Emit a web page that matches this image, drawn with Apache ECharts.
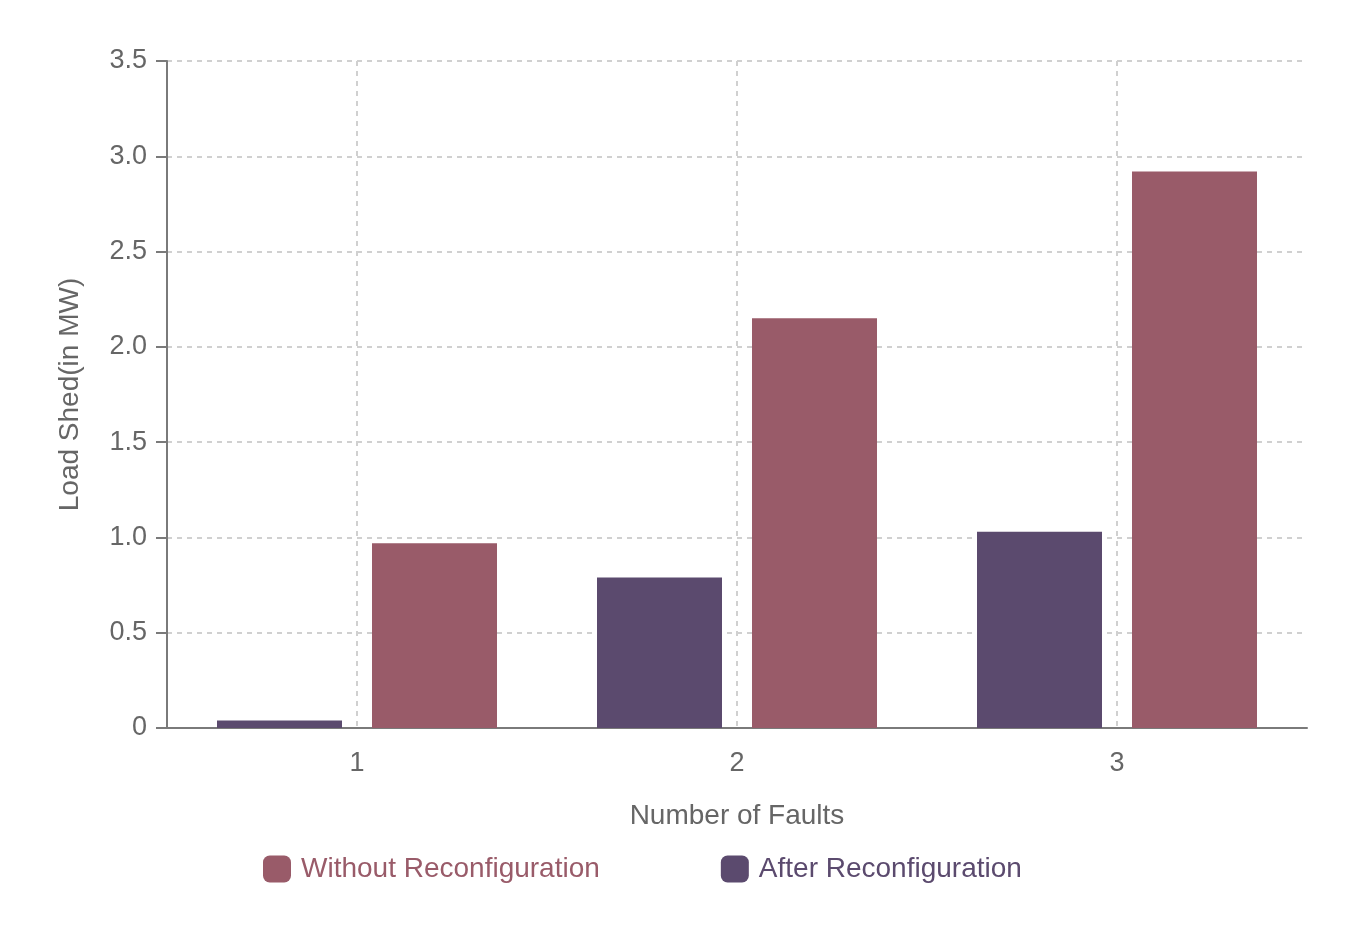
<!DOCTYPE html>
<html>
<head>
<meta charset="utf-8">
<script src="https://cdn.jsdelivr.net/npm/echarts@6/dist/echarts.min.js"></script>
<style>html,body{margin:0;padding:0;background:#fff}#c{width:1346px;height:938px}</style>
</head>
<body>
<div id="c"></div>
<script>
const categories = ['1', '2', '3'];
const afterReconfig = [0.04, 0.79, 1.03];
const withoutReconfig = [0.97, 2.15, 2.92];
const seriesNames = ['Without Reconfiguration', 'After Reconfiguration'];
const yAxisName = 'Load Shed(in MW)';
const xAxisName = 'Number of Faults';

const colWithout = '#995b69';
const colAfter = '#5b4a6e';
const axisCol = '#7a7a7a';
const txtCol = '#666666';
const font = 'Liberation Sans, Arial, sans-serif';

const chart = echarts.init(document.getElementById('c'));
chart.setOption({
  animation: false,
  textStyle: { fontFamily: font },
  grid: { left: 167, right: 39, top: 61, bottom: 210 },
  legend: {
    bottom: 50,
    left: 258,
    icon: 'roundRect',
    itemWidth: 28,
    itemHeight: 27,
    itemGap: 121,
    textStyle: { fontSize: 28, fontFamily: font, padding: [0, 0, 0, 5] },
    data: [
      { name: seriesNames[0], textStyle: { color: colWithout } },
      { name: seriesNames[1], textStyle: { color: colAfter } }
    ]
  },
  xAxis: {
    type: 'category',
    data: categories,
    name: xAxisName,
    nameLocation: 'middle',
    nameGap: 74,
    nameTextStyle: { fontSize: 28, color: txtCol, fontFamily: font },
    axisLine: { lineStyle: { color: axisCol, width: 2 } },
    axisTick: { alignWithLabel: true, length: 11, lineStyle: { color: axisCol, width: 2 } },
    axisLabel: { fontSize: 27, color: txtCol, margin: 22, fontFamily: font },
    splitLine: { show: true, alignWithLabel: true, lineStyle: { color: '#d0d0d0', type: [5, 5], width: 2 } }
  },
  yAxis: {
    type: 'value',
    min: 0,
    max: 3.5,
    interval: 0.5,
    name: yAxisName,
    nameLocation: 'middle',
    nameGap: 83,
    nameTextStyle: { fontSize: 28, color: txtCol, fontFamily: font },
    axisLine: { show: true, lineStyle: { color: axisCol, width: 2 } },
    axisTick: { show: true, length: 11, lineStyle: { color: axisCol, width: 2 } },
    axisLabel: {
      fontSize: 27, color: txtCol, margin: 20, fontFamily: font,
      formatter: v => v === 0 ? '0' : v.toFixed(1)
    },
    splitLine: { show: true, lineStyle: { color: '#d0d0d0', type: [5, 5], width: 2 } }
  },
  series: [
    {
      name: seriesNames[1],
      type: 'bar',
      data: afterReconfig,
      barWidth: 125,
      barGap: '24%',
      itemStyle: { color: colAfter }
    },
    {
      name: seriesNames[0],
      type: 'bar',
      data: withoutReconfig,
      barWidth: 125,
      barGap: '24%',
      itemStyle: { color: colWithout }
    }
  ]
});
</script>
</body>
</html>
